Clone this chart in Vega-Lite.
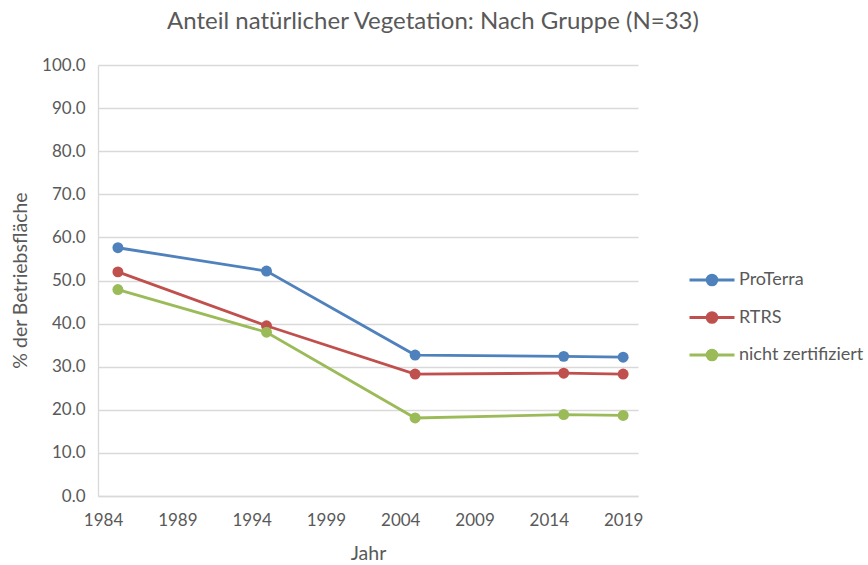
{
  "$schema": "https://vega.github.io/schema/vega-lite/v6.json",
  "width": 540,
  "height": 431,
  "autosize": "none",
  "padding": {"left": 98, "top": 65, "right": 230, "bottom": 69},
  "background": "white",
  "config": {
    "font": "Lato",
    "view": {"stroke": null},
    "axis": {"labelFont": "Lato", "titleFont": "Lato", "labelColor": "#595959", "titleColor": "#595959", "labelFontSize": 17, "titleFontSize": 19.5, "titleFontWeight": "normal", "gridColor": "#D9D9D9", "gridWidth": 1.3, "domainColor": "#D9D9D9", "domainWidth": 1.3, "ticks": false},
    "legend": {"labelFont": "Lato", "labelFontSize": 18, "labelColor": "#595959"}
  },
  "title": {"text": "Anteil natürlicher Vegetation: Nach Gruppe (N=33)", "font": "Lato", "fontSize": 24, "fontWeight": "normal", "color": "#595959", "anchor": "middle", "dx": 65, "offset": 22},
  "data": {
    "values": [
      {"Jahr": 1985, "Gruppe": "ProTerra", "Wert": 57.6},
      {"Jahr": 1995, "Gruppe": "ProTerra", "Wert": 52.2},
      {"Jahr": 2005, "Gruppe": "ProTerra", "Wert": 32.7},
      {"Jahr": 2015, "Gruppe": "ProTerra", "Wert": 32.4},
      {"Jahr": 2019, "Gruppe": "ProTerra", "Wert": 32.2},
      {"Jahr": 1985, "Gruppe": "RTRS", "Wert": 52.0},
      {"Jahr": 1995, "Gruppe": "RTRS", "Wert": 39.5},
      {"Jahr": 2005, "Gruppe": "RTRS", "Wert": 28.3},
      {"Jahr": 2015, "Gruppe": "RTRS", "Wert": 28.5},
      {"Jahr": 2019, "Gruppe": "RTRS", "Wert": 28.3},
      {"Jahr": 1985, "Gruppe": "nicht zertifiziert", "Wert": 47.9},
      {"Jahr": 1995, "Gruppe": "nicht zertifiziert", "Wert": 38.0},
      {"Jahr": 2005, "Gruppe": "nicht zertifiziert", "Wert": 18.1},
      {"Jahr": 2015, "Gruppe": "nicht zertifiziert", "Wert": 18.9},
      {"Jahr": 2019, "Gruppe": "nicht zertifiziert", "Wert": 18.7}
    ]
  },
  "encoding": {
    "x": {"field": "Jahr", "type": "quantitative", "scale": {"domain": [1983.66, 2020], "nice": false, "zero": false},
      "axis": {"title": "Jahr", "values": [1984, 1989, 1994, 1999, 2004, 2009, 2014, 2019], "format": "d", "grid": false, "labelPadding": 16, "labelOverlap": false, "labelFlush": false, "titleY": 57, "titleBaseline": "middle"}},
    "y": {"field": "Wert", "type": "quantitative", "scale": {"domain": [0, 100], "nice": false},
      "axis": {"title": "% der Betriebsfläche", "values": [0,10,20,30,40,50,60,70,80,90,100], "format": ".1f", "labelPadding": 13, "labelOverlap": false, "titleX": -78, "titleY": 215, "titleAngle": -90, "titleBaseline": "middle", "titleAlign": "center"}},
    "color": {"field": "Gruppe", "type": "nominal", "sort": ["ProTerra", "RTRS", "nicht zertifiziert"],
      "scale": {"domain": ["ProTerra", "RTRS", "nicht zertifiziert"], "range": ["#4F81BD", "#C0504D", "#9BBB59"]},
      "legend": {"title": null, "orient": "none", "legendX": 605, "legendY": 206, "symbolType": "M-3,0H3M-0.65,0A0.65,0.65,0,1,0,0.65,0A0.65,0.65,0,1,0,-0.65,0", "symbolSize": 225, "symbolStrokeWidth": 2.8, "rowPadding": 15.5, "labelOffset": 18}}
  },
  "layer": [
    {"mark": {"type": "line", "strokeWidth": 2.8}},
    {"mark": {"type": "point", "filled": true, "size": 120, "opacity": 1}}
  ]
}
